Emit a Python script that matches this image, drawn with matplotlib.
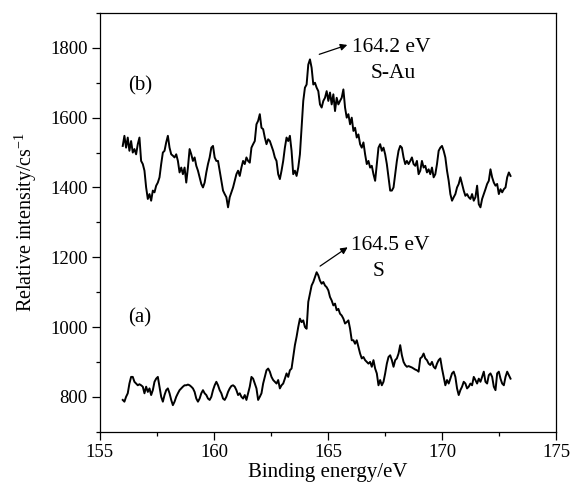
import numpy as np
import matplotlib
matplotlib.use("Agg")
import matplotlib.pyplot as plt
from matplotlib.ticker import MultipleLocator

plt.rcParams['font.family'] = ['Liberation Serif', 'DejaVu Serif']
plt.rcParams['mathtext.fontset'] = 'custom'
plt.rcParams['mathtext.rm'] = 'Liberation Serif'

# S 2p spectra
# (b) S-Au sample
counts_b = [1519, 1548, 1514, 1543, 1505, 1533, 1500, 1510, 1495, 1524, 1543, 1476, 1467, 1448, 1400, 1367,
            1381, 1362, 1391, 1386, 1405, 1414, 1429, 1467, 1500, 1505, 1529, 1548, 1514, 1495, 1491, 1486,
            1495, 1476, 1443, 1457, 1438, 1457, 1414, 1457, 1510, 1495, 1476, 1486, 1462, 1448, 1429, 1410,
            1400, 1414, 1443, 1467, 1486, 1514, 1519, 1486, 1476, 1476, 1448, 1419, 1391, 1381, 1372, 1343,
            1372, 1386, 1400, 1419, 1438, 1448, 1433, 1457, 1476, 1467, 1486, 1476, 1471, 1514, 1524, 1533,
            1581, 1591, 1610, 1571, 1567, 1543, 1524, 1538, 1533, 1519, 1505, 1486, 1476, 1438, 1424, 1448,
            1476, 1514, 1543, 1533, 1548, 1505, 1438, 1448, 1433, 1457, 1495, 1571, 1648, 1686, 1695, 1752,
            1767, 1743, 1695, 1700, 1686, 1676, 1638, 1629, 1648, 1657, 1676, 1648, 1672, 1638, 1667, 1619,
            1657, 1638, 1648, 1657, 1681, 1629, 1600, 1610, 1581, 1600, 1562, 1571, 1543, 1552, 1524, 1514,
            1529, 1495, 1467, 1476, 1457, 1462, 1438, 1419, 1467, 1514, 1524, 1505, 1514, 1495, 1467, 1429,
            1391, 1391, 1400, 1438, 1476, 1505, 1519, 1514, 1486, 1467, 1476, 1467, 1476, 1486, 1467, 1462,
            1476, 1438, 1448, 1476, 1457, 1462, 1443, 1452, 1438, 1457, 1429, 1438, 1467, 1505, 1514, 1519,
            1505, 1486, 1448, 1419, 1381, 1362, 1372, 1381, 1400, 1410, 1429, 1410, 1391, 1376, 1381, 1372,
            1367, 1381, 1362, 1372, 1405, 1352, 1343, 1367, 1381, 1395, 1410, 1419, 1452, 1429, 1414, 1405,
            1410, 1381, 1395, 1386, 1395, 1400, 1429, 1443, 1433]

# (a) S sample
counts_a = [791, 786, 800, 810, 838, 857, 857, 843, 838, 833, 836, 833, 829, 810, 829, 814,
            824, 805, 819, 843, 852, 857, 829, 800, 786, 805, 819, 824, 810, 791, 776, 786,
            800, 810, 819, 824, 829, 833, 833, 835, 833, 829, 824, 814, 795, 786, 795, 810,
            819, 810, 805, 795, 791, 800, 819, 833, 843, 833, 819, 810, 795, 791, 800, 814,
            824, 831, 833, 829, 819, 805, 810, 800, 795, 805, 791, 810, 829, 857, 852, 838,
            824, 791, 800, 810, 838, 857, 876, 881, 872, 857, 848, 843, 838, 848, 824, 833,
            838, 852, 867, 857, 876, 881, 914, 948, 972, 1000, 1024, 1014, 1019, 1000, 995, 1072,
            1095, 1119, 1129, 1143, 1157, 1148, 1133, 1124, 1129, 1119, 1114, 1105, 1086, 1076, 1062, 1067,
            1048, 1052, 1038, 1033, 1024, 1010, 1014, 1019, 995, 962, 962, 952, 962, 943, 924, 910,
            914, 905, 900, 895, 900, 886, 905, 881, 867, 833, 848, 833, 843, 867, 895, 914,
            919, 905, 886, 905, 910, 924, 948, 919, 900, 891, 886, 888, 886, 884, 881, 878,
            876, 872, 910, 914, 924, 910, 905, 895, 891, 900, 886, 881, 895, 905, 910, 881,
            857, 833, 848, 838, 852, 867, 872, 857, 824, 805, 819, 829, 843, 838, 824, 829,
            838, 833, 857, 848, 838, 852, 843, 857, 872, 843, 838, 862, 867, 857, 829, 819,
            867, 872, 852, 838, 833, 857, 872, 862, 852]

energy = np.linspace(156.0, 173.0, len(counts_a))

fig = plt.figure(figsize=(5.71, 4.92), dpi=100)
ax = fig.add_axes([0.175, 0.1226, 0.799, 0.851])

ax.plot(energy, counts_b, color='black', lw=1.4)
ax.plot(energy, counts_a, color='black', lw=1.4)

ax.set_xlim(155, 175)
ax.set_ylim(700, 1900)
ax.xaxis.set_major_locator(MultipleLocator(5))
ax.xaxis.set_minor_locator(MultipleLocator(2.5))
ax.yaxis.set_major_locator(MultipleLocator(200))
ax.yaxis.set_minor_locator(MultipleLocator(100))
ax.tick_params(which='major', direction='out', length=5.5, width=0.9, labelsize=13.5)
ax.tick_params(which='minor', direction='out', length=2.8, width=0.9)
for s in ax.spines.values():
    s.set_linewidth(0.9)

ax.set_xlabel('Binding energy/eV', fontsize=15, labelpad=1)
ax.set_ylabel('Relative intensity/cs$^{-1}$', fontsize=14.5, labelpad=8)

# labels and peak arrows
ax.text(156.75, 1690, '(b)', fontsize=15, ha='center', va='center')
ax.text(156.75, 1025, '(a)', fontsize=15, ha='center', va='center')

ax.annotate('', xy=(165.96, 1811), xytext=(164.5, 1779),
            arrowprops=dict(arrowstyle='-|>', color='black', lw=0.9, mutation_scale=10))
ax.text(166.05, 1801, '164.2 eV', fontsize=15.5, ha='left', va='center')
ax.text(167.85, 1726, 'S-Au', fontsize=15.5, ha='center', va='center')

ax.annotate('', xy=(165.96, 1233), xytext=(164.55, 1170),
            arrowprops=dict(arrowstyle='-|>', color='black', lw=0.9, mutation_scale=10))
ax.text(166.0, 1233, '164.5 eV', fontsize=15.5, ha='left', va='center')
ax.text(167.2, 1158, 'S', fontsize=15.5, ha='center', va='center')

fig.savefig('out.png', dpi=100)
